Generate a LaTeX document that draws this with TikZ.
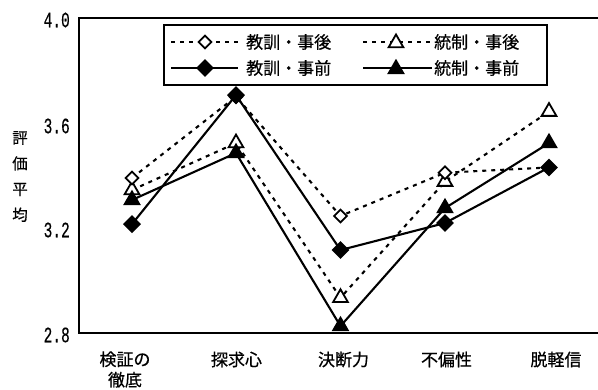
\documentclass[tikz,border=0pt]{standalone}
\usepackage{graphicx}
\usepackage{fontspec}
\newfontfamily\jp[FakeBold=0.6]{Noto Sans CJK JP}
\newfontfamily\mono[FakeBold=0.4]{Liberation Mono}
\usetikzlibrary{shapes.geometric}
\tikzset{
  axisline/.style={line width=2pt, line cap=rect},
  solidser/.style={line width=2.1pt},
  dashser/.style={line width=2.1pt, dash pattern=on 4pt off 5pt},
  odia/.style={diamond, draw, fill=white, line width=1.8pt, inner sep=0pt, minimum size=13.5pt},
  fdia/.style={diamond, fill=black, inner sep=0pt, minimum size=18pt},
  otri/.style={regular polygon, regular polygon sides=3, draw, fill=white, line width=1.8pt, inner sep=0pt, minimum size=17pt},
  ftri/.style={regular polygon, regular polygon sides=3, fill=black, inner sep=0pt, minimum size=20.5pt},
  ticklab/.style={anchor=east, inner sep=0pt, font=\mono\fontsize{22}{22}\selectfont},
  catlab/.style={inner sep=0pt, align=center, font=\jp\fontsize{17}{20.5}\selectfont},
  leglab/.style={anchor=west, inner sep=0pt, font=\jp\fontsize{17}{17}\selectfont},
  ylab/.style={inner sep=0pt, align=center, font=\jp\fontsize{15.5}{25.7}\selectfont},
  legbox/.style={draw, line width=1.8pt}
}
\newcommand{\tk}[1]{\scalebox{0.66}[1]{#1}}
\begin{document}
\begin{tikzpicture}[x=1pt, y=-1pt]
\useasboundingbox (0,0) rectangle (598,389);
\fill[white] (0,0) rectangle (598,389);

% axes frame
\coordinate (tr) at (602,18);
\coordinate (tl) at (79,18);
\coordinate (bl) at (79,333);
\coordinate (br) at (602,333);
\draw[axisline] (tr) -- (tl) -- (bl) -- (br);

% tick labels
\node[ticklab] (t40) at (70,20) {\tk{4.0}};
\node[ticklab] (t36) at (70,126) {\tk{3.6}};
\node[ticklab] (t32) at (70,230) {\tk{3.2}};
\node[ticklab] (t28) at (70,335) {\tk{2.8}};

% y-axis title
\node[ylab] (ytitle) at (20,176.5) {評\\価\\平\\均};

% category labels
\node[catlab] (c1) at (125,369.5) {検証の\\徹底};
\node[catlab] (c2) at (236.5,359.5) {探求心};
\node[catlab] (c3) at (343.5,359.5) {決断力};
\node[catlab] (c4) at (446.5,359.5) {不偏性};
\node[catlab] (c5) at (556,359.5) {脱軽信};

% data
\begin{scope}[y=262.2pt, yshift=-1066.8pt]
  % 教訓・事後
  \coordinate (ka1) at (132,3.39);
  \coordinate (ka2) at (236,3.70);
  \coordinate (ka3) at (340.5,3.245);
  \coordinate (ka4) at (445,3.41);
  \coordinate (ka5) at (549,3.43);
  % 教訓・事前
  \coordinate (kb1) at (132,3.214);
  \coordinate (kb2) at (236,3.706);
  \coordinate (kb3) at (340.5,3.115);
  \coordinate (kb4) at (445,3.218);
  \coordinate (kb5) at (549,3.43);
  % 統制・事後
  \coordinate (ta1) at (132,3.344);
  \coordinate (ta2) at (236,3.523);
  \coordinate (ta3) at (340.5,2.933);
  \coordinate (ta4) at (445,3.376);
  \coordinate (ta5) at (549,3.643);
  % 統制・事前
  \coordinate (tb1) at (132,3.306);
  \coordinate (tb2) at (236,3.485);
  \coordinate (tb3) at (340.5,2.825);
  \coordinate (tb4) at (445,3.275);
  \coordinate (tb5) at (549,3.523);
\end{scope}

\draw[dashser] (ta1) -- (ta2) -- (ta3) -- (ta4) -- (ta5);
\draw[dashser] (ka1) -- (ka2) -- (ka3) -- (ka4) -- (ka5);
\draw[solidser] (tb1) -- (tb2) -- (tb3) -- (tb4) -- (tb5);
\draw[solidser] (kb1) -- (kb2) -- (kb3) -- (kb4) -- (kb5);

\foreach \i in {1,...,5} {
  \node[otri] (mta\i) at (ta\i) {};
}
\foreach \i in {1,...,5} {
  \node[odia] (mka\i) at (ka\i) {};
}
\foreach \i in {1,...,5} {
  \node[ftri] (mtb\i) at (tb\i) {};
}
\foreach \i in {1,...,5} {
  \node[fdia] (mkb\i) at (kb\i) {};
}

% legend
\node[legbox, minimum width=383pt, minimum height=60pt, anchor=north west] (legend) at (163,24) {};
\coordinate (l1a) at (171,42);
\coordinate (l1b) at (238,42);
\coordinate (l2a) at (171,68);
\coordinate (l2b) at (238,68);
\coordinate (l3a) at (363,42);
\coordinate (l3b) at (432,42);
\coordinate (l4a) at (363,68);
\coordinate (l4b) at (432,68);
\draw[dashser] (l1a) -- (l1b);
\draw[solidser] (l2a) -- (l2b);
\draw[dashser] (l3a) -- (l3b);
\draw[solidser] (l4a) -- (l4b);
\node[odia] (lm1) at (205,42) {};
\node[fdia] (lm2) at (205,68) {};
\node[otri] (lm3) at (396,43) {};
\node[ftri] (lm4) at (396,69) {};
\node[leglab] (lt1) at (246,42) {教訓・事後};
\node[leglab] (lt2) at (246,68) {教訓・事前};
\node[leglab] (lt3) at (434,42) {統制・事後};
\node[leglab] (lt4) at (434,68) {統制・事前};
\end{tikzpicture}
\end{document}
